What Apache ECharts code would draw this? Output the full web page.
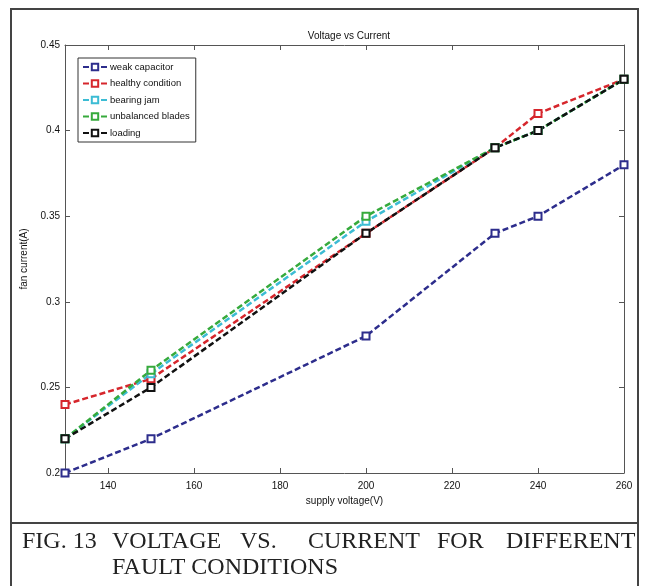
<!DOCTYPE html>
<html>
<head>
<meta charset="utf-8">
<script src="https://cdn.jsdelivr.net/npm/echarts@6/dist/echarts.min.js"></script>
<style>
  html, body { margin: 0; padding: 0; background: #fff; }
  #chart { width: 648px; height: 586px; }
</style>
</head>
<body>
<div id="chart"></div>
<script>
// supply voltage (V)
const voltage = [130, 150, 200, 230, 240, 260];
// fan current (A) per condition
const weakCapacitor = [0.20, 0.22, 0.28, 0.34, 0.35, 0.38];
const healthyCondition = [0.24, 0.255, 0.34, 0.39, 0.41, 0.43];
const bearingJam = [0.22, 0.258, 0.347, 0.39, 0.40, 0.43];
const unbalancedBlades = [0.22, 0.26, 0.35, 0.39, 0.40, 0.43];
const loading = [0.22, 0.25, 0.34, 0.39, 0.40, 0.43];
const xTicks = [140, 160, 180, 200, 220, 240, 260];
const captionWords = ['FIG. 13', 'VOLTAGE', 'VS.', 'CURRENT', 'FOR', 'DIFFERENT'];

const narrow = "'Liberation Sans Narrow', 'Liberation Sans', Arial, sans-serif";
const serif = "'Liberation Serif', 'Times New Roman', serif";

function pairs(ys) {
  return voltage.map((v, i) => [v, ys[i]]);
}

function makeSeries(name, ys, color) {
  return {
    name: name,
    type: 'line',
    data: pairs(ys),
    symbol: 'emptyRect',
    symbolSize: 7,
    showAllSymbol: true,
    lineStyle: { color: color, width: 2.5, type: [6, 3] },
    itemStyle: { color: color, borderColor: color, borderWidth: 2 },
    emphasis: { disabled: true },
  };
}

const chart = echarts.init(document.getElementById('chart'));

const wordX = [22, 112, 240, 308, 437, 506];

chart.setOption({
  animation: false,
  title: {
    text: 'Voltage vs Current',
    left: 344,
    top: 26,
    textAlign: 'center',
    textStyle: { fontSize: 10, fontWeight: 'normal', color: '#111', fontFamily: narrow },
  },
  grid: { left: 65, right: 24, top: 45, bottom: 113 },
  legend: {
    orient: 'vertical',
    left: 78,
    top: 58,
    itemWidth: 24,
    itemHeight: 8,
    itemGap: 6.5,
    padding: [4, 6, 4, 4],
    borderColor: '#333',
    borderWidth: 1,
    backgroundColor: '#fff',
    textStyle: { fontSize: 9.5, color: '#111', fontFamily: narrow, padding: [0, 0, 0, -2] },
    data: ['weak capacitor', 'healthy condition', 'bearing jam', 'unbalanced blades', 'loading'],
  },
  xAxis: [
    {
      type: 'value',
      min: 130,
      max: 260,
      name: 'supply voltage(V)',
      nameLocation: 'middle',
      nameGap: 22,
      nameTextStyle: { fontSize: 10, color: '#111', fontFamily: narrow },
      axisLine: { lineStyle: { color: '#555', width: 1 } },
      axisTick: { inside: true, length: 5, customValues: xTicks, lineStyle: { color: '#555' } },
      axisLabel: { customValues: xTicks, fontSize: 10, color: '#111', fontFamily: narrow, margin: 8 },
      splitLine: { show: false },
    },
    {
      type: 'value',
      min: 130,
      max: 260,
      position: 'top',
      axisLine: { lineStyle: { color: '#555', width: 1 } },
      axisTick: { inside: true, length: 5, customValues: xTicks, lineStyle: { color: '#555' } },
      axisLabel: { show: false },
      splitLine: { show: false },
    },
  ],
  yAxis: [
    {
      type: 'value',
      min: 0.2,
      max: 0.45,
      interval: 0.05,
      name: 'fan current(A)',
      nameLocation: 'middle',
      nameGap: 27,
      nameTextStyle: { fontSize: 10, color: '#111', fontFamily: narrow },
      axisLine: { show: true, lineStyle: { color: '#555', width: 1 } },
      axisTick: { show: true, inside: true, length: 5, lineStyle: { color: '#555' } },
      axisLabel: { fontSize: 10, color: '#111', fontFamily: narrow, margin: 5 },
      splitLine: { show: false },
    },
    {
      type: 'value',
      min: 0.2,
      max: 0.45,
      interval: 0.05,
      position: 'right',
      axisLine: { show: true, lineStyle: { color: '#555', width: 1 } },
      axisTick: { show: true, inside: true, length: 5, lineStyle: { color: '#555' } },
      axisLabel: { show: false },
      splitLine: { show: false },
    },
  ],
  series: [
    makeSeries('weak capacitor', weakCapacitor, '#2d2d8c'),
    makeSeries('healthy condition', healthyCondition, '#d6262c'),
    makeSeries('bearing jam', bearingJam, '#3cbcd4'),
    makeSeries('unbalanced blades', unbalancedBlades, '#36aa3c'),
    makeSeries('loading', loading, '#111111'),
  ],
  graphic: [
    // outer frame and caption separator
    { type: 'rect', shape: { x: 11, y: 9, width: 627, height: 590 }, style: { fill: null, stroke: '#444', lineWidth: 2 }, silent: true },
    { type: 'line', shape: { x1: 11, y1: 523, x2: 638, y2: 523 }, style: { stroke: '#444', lineWidth: 2 }, silent: true },
  ].concat(captionWords.map((w, i) => ({
    type: 'text',
    left: wordX[i],
    top: 530,
    style: { text: w, fontSize: 24, fontFamily: serif, fill: '#222' },
    silent: true,
  }))).concat([{
    type: 'text',
    left: 112,
    top: 556,
    style: { text: 'FAULT CONDITIONS', fontSize: 24, fontFamily: serif, fill: '#222' },
    silent: true,
  }]),
});
</script>
</body>
</html>
